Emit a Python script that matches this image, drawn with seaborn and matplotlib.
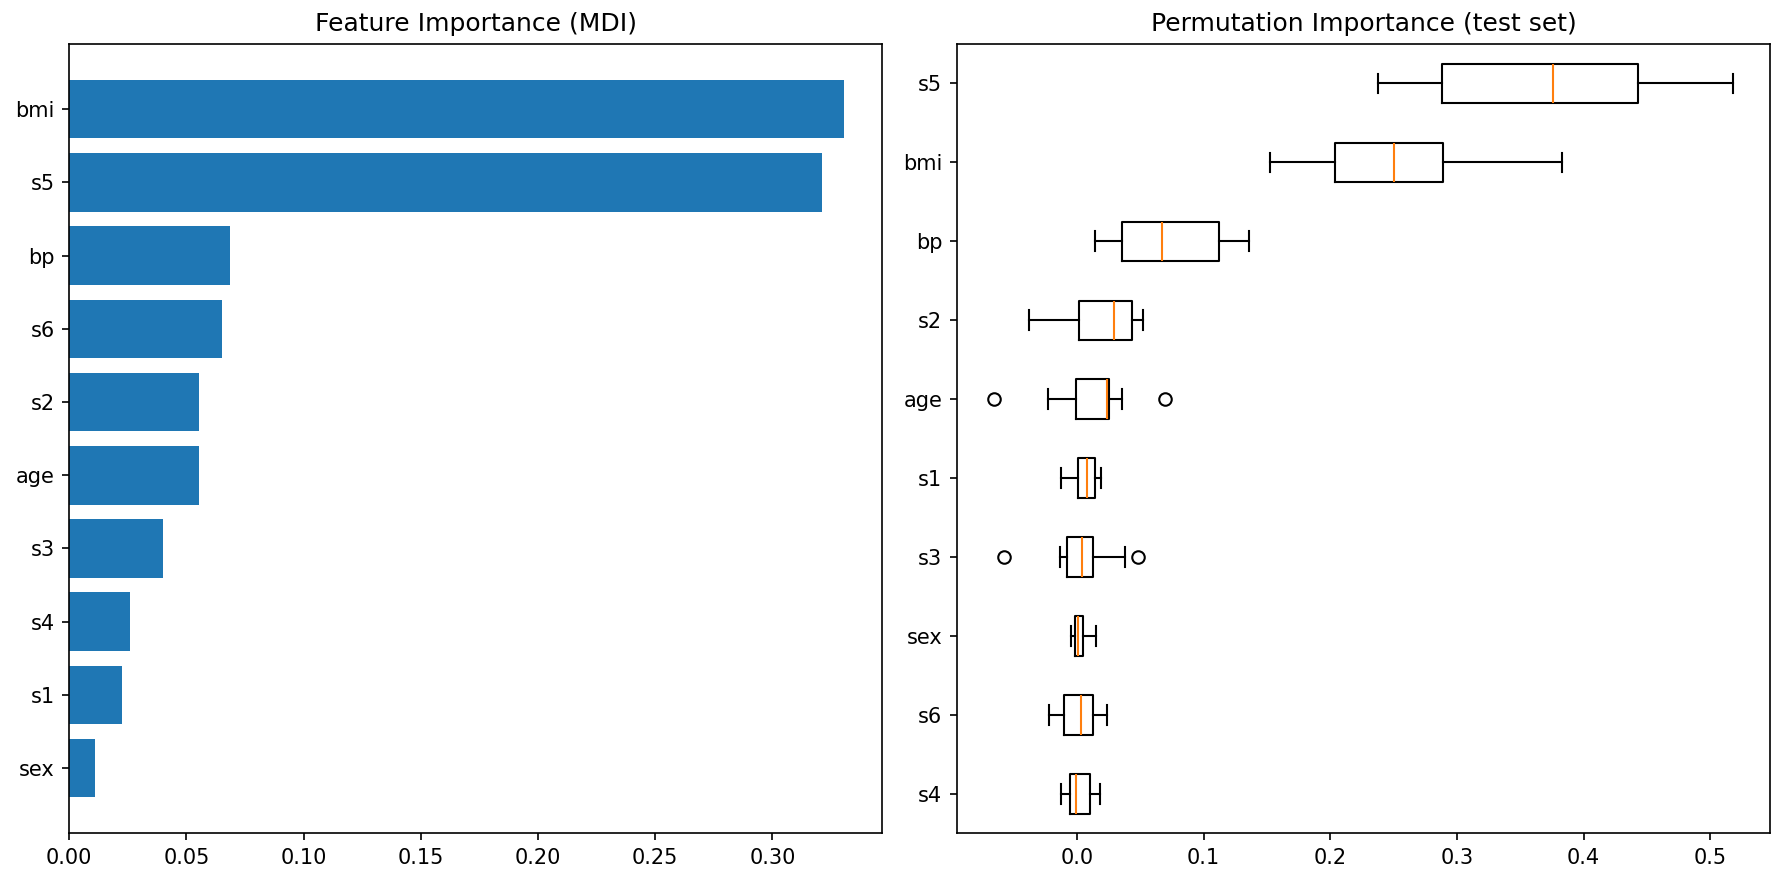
import matplotlib
matplotlib.use("Agg")
import matplotlib.pyplot as plt
import numpy as np
import pandas as pd
import seaborn as sns

# Feature importance (MDI), sorted top to bottom
mdi_features = ["bmi", "s5", "bp", "s6", "s2", "age", "s3", "s4", "s1", "sex"]
mdi_values = [0.3304, 0.3213, 0.0688, 0.0651, 0.0553, 0.0555, 0.0400, 0.0258, 0.0226, 0.0111]

# Permutation importance box stats, bottom (position 1) to top
perm_features = ["s4", "s6", "sex", "s3", "s1", "age", "s2", "bp", "bmi", "s5"]
perm_whislo = [-0.0124, -0.0220, -0.0051, -0.0133, -0.0124, -0.0230, -0.0381, 0.0142, 0.1527, 0.2380]
perm_q1 = [-0.0055, -0.0102, -0.0014, -0.0078, 0.0009, -0.0005, 0.0018, 0.0353, 0.2036, 0.2885]
perm_med = [-0.0005, 0.0028, 0.0004, 0.0041, 0.0078, 0.0238, 0.0293, 0.0669, 0.2500, 0.3757]
perm_q3 = [0.0100, 0.0128, 0.0050, 0.0128, 0.0142, 0.0256, 0.0431, 0.1123, 0.2890, 0.4430]
perm_whishi = [0.0179, 0.0234, 0.0151, 0.0376, 0.0188, 0.0357, 0.0518, 0.1357, 0.3830, 0.5180]
perm_fliers = [[], [], [], [-0.0578, 0.0482], [], [-0.0656, 0.0692], [], [], [], []]

fig, (ax1, ax2) = plt.subplots(1, 2, figsize=(1789/150, 890/150), dpi=150)
fig.subplots_adjust(left=0.0387, right=0.9894, top=0.9506, bottom=0.0637, wspace=0.0919)

# barras horizontales con seaborn
df_mdi = pd.DataFrame({"feature": mdi_features, "importance": mdi_values})
sns.barplot(data=df_mdi, x="importance", y="feature", orient="h", color="#1f77b4",
            saturation=1, width=0.8, ax=ax1)
ax1.set_ylim(len(mdi_features) - 0.5 + 0.39, -0.5 - 0.39)
ax1.set_xlim(0, max(mdi_values) * 1.05)
ax1.set_xlabel("")
ax1.set_ylabel("")
ax1.set_title("Feature Importance (MDI)")

# cajas a partir de estadisticos
stats = []
for i, name in enumerate(perm_features):
    stats.append({"label": name, "whislo": perm_whislo[i], "q1": perm_q1[i], "med": perm_med[i],
                  "q3": perm_q3[i], "whishi": perm_whishi[i], "fliers": perm_fliers[i]})
ax2.bxp(stats, orientation="horizontal", showfliers=True,
        medianprops=dict(color="#ff7f0e"))
ax2.set_title("Permutation Importance (test set)")

plt.savefig("out.png", dpi=150)
